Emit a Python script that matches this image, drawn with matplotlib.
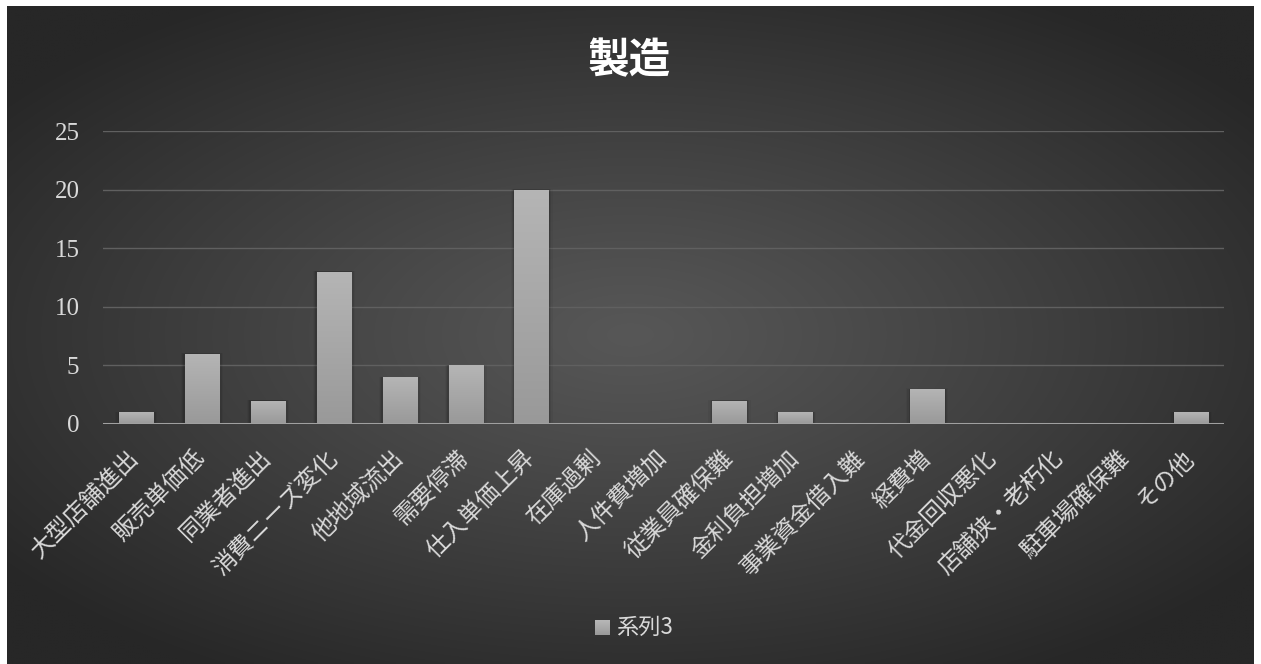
import numpy as np
import matplotlib
matplotlib.use("Agg")
import matplotlib.pyplot as plt
from matplotlib.patches import Rectangle

categories = ["大型店舗進出", "販売単価低", "同業者進出", "消費ニーズ変化", "他地域流出",
              "需要停滞", "仕入単価上昇", "在庫過剰", "人件費増加", "従業員確保難",
              "金利負担増加", "事業資金借入難", "経費増", "代金回収悪化", "店舗狭・老朽化",
              "駐車場確保難", "その他"]
values = [1, 6, 2, 13, 4, 5, 20, 0, 0, 2, 1, 0, 3, 0, 0, 0, 1]
yticks = [0, 5, 10, 15, 20, 25]
series_name = "系列3"
title = "製造"

W, H = 1261, 664
fig = plt.figure(figsize=(W / 100, H / 100), dpi=100, facecolor="white")

# background radial gradient
bx0, bx1, by0 = 7 / W, 1254 / W, 6 / H
bg = fig.add_axes([bx0, 0, bx1 - bx0, 1 - by0])
bg.set_axis_off()
nx, ny = 400, 220
xx, yy = np.meshgrid(np.linspace(-1, 1, nx), np.linspace(-1, 1, ny))
r = np.sqrt((xx * 0.95) ** 2 + (yy * 1.0) ** 2) / np.sqrt(0.95 ** 2 + 1)
r = np.clip(r * 1.15, 0, 1)
c_center, c_edge = 0x57 / 255, 0x27 / 255
val = c_center - (c_center - c_edge) * r ** 1.1
img = np.dstack([val, val, val])
bg.imshow(img, aspect="auto", extent=[0, 1, 0, 1], interpolation="bilinear")
bg.set_xlim(0, 1); bg.set_ylim(0, 1)

jp = ["Noto Sans CJK JP", "DejaVu Sans"]
serif = ["Liberation Serif", "DejaVu Serif"]

ax = fig.add_axes([103 / W, 1 - 424 / H, (1224 - 103) / W, (424 - 131) / H])
ax.patch.set_alpha(0)
x = np.arange(len(categories))
ax.set_xlim(-0.5, len(categories) - 0.5)
ax.set_ylim(0, 25)

bars = ax.bar(x, values, width=0.52, color="#a8a8a8", zorder=3, linewidth=0)
grad = np.linspace(0.60, 0.71, 100).reshape(-1, 1)
for b in bars:
    if b.get_height() <= 0:
        continue
    bx, bw, bh = b.get_x(), b.get_width(), b.get_height()
    # soft shadow
    for k, a in enumerate([0.10, 0.07, 0.04]):
        d = 0.02 * (k + 1)
        ax.add_patch(Rectangle((bx - d, 0), bw + 2 * d, bh + d * 0.6, facecolor="black",
                               alpha=a, linewidth=0, zorder=2))
    im = ax.imshow(np.dstack([grad, grad, grad]), extent=[bx, bx + bw, 0, bh],
                   origin="lower", aspect="auto", zorder=4)
    im.set_clip_path(b)

ax.set_yticks(yticks)
ax.yaxis.grid(True, color="#606060", linewidth=1.0, zorder=1)
ax.axhline(0, color="#a0a0a0", linewidth=2.2, zorder=5)
for s in ax.spines.values():
    s.set_visible(False)
ax.tick_params(axis="both", length=0, colors="#d9d9d9")
ax.tick_params(axis="y", pad=17)
for t in ax.get_yticklabels():
    t.set_fontfamily(serif)
    t.set_fontsize(18)
    t.set_color("#d9d9d9")
ax.set_xticks(x)
ax.set_xticklabels(categories, rotation=45, ha="right", va="center",
                   rotation_mode="anchor", family=jp, fontsize=17, color="#d9d9d9")
ax.tick_params(axis="x", pad=22)

fig.text(629 / W, 1 - 61 / H, title, ha="center", va="center", family=jp,
         fontsize=30, fontweight="bold", color="white")

# legend
sq = 15
lax = fig.add_axes([595 / W, 1 - 635 / H, sq / W, sq / H])
lax.set_axis_off()
g2 = np.linspace(0.60, 0.72, 50).reshape(-1, 1)
lax.imshow(np.dstack([g2, g2, g2]), extent=[0, 1, 0, 1], origin="lower", aspect="auto")
fig.text(616 / W, 1 - 627 / H, series_name, ha="left", va="center", family=jp,
         fontsize=16, color="#d9d9d9")

fig.savefig("out.png", dpi=100, facecolor="white")
